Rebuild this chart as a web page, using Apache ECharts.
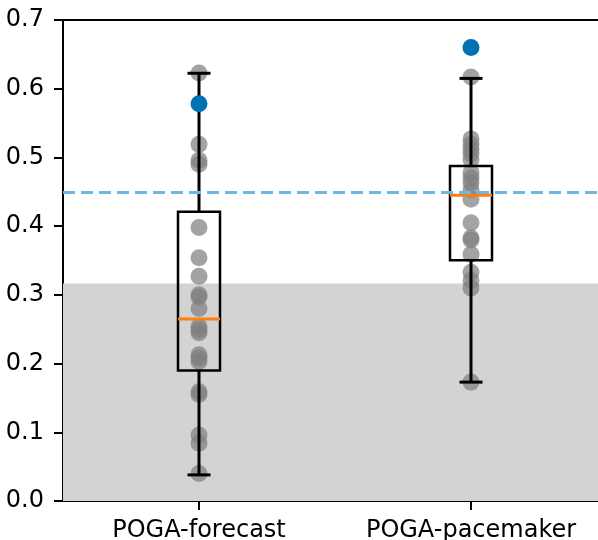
<!DOCTYPE html>
<html>
<head>
<meta charset="utf-8">
<script src="https://cdn.jsdelivr.net/npm/echarts@6/dist/echarts.min.js"></script>
<style>html,body{margin:0;padding:0;background:#fff}#c{width:598px;height:540px}</style>
</head>
<body>
<div id="c"></div>
<script>
const categories = ['POGA-forecast', 'POGA-pacemaker'];
const forecastPoints = [0.623, 0.519, 0.496, 0.490, 0.398, 0.354, 0.327, 0.300, 0.297, 0.280, 0.254, 0.249, 0.245, 0.213, 0.208, 0.203, 0.159, 0.155, 0.096, 0.084, 0.040];
const pacemakerPoints = [0.617, 0.527, 0.519, 0.512, 0.505, 0.497, 0.478, 0.470, 0.463, 0.453, 0.439, 0.405, 0.383, 0.380, 0.359, 0.333, 0.321, 0.310, 0.173];
const highlightPoints = [0.578, 0.660];
// [whisker low, Q1, median, Q3, whisker high]
const boxStats = [
  [0.038, 0.190, 0.265, 0.421, 0.6225],
  [0.173, 0.3505, 0.445, 0.4875, 0.615]
];
const thresholdValue = 0.452;
const shadeTop = 0.3165;
const yTickValues = [0, 0.1, 0.2, 0.3, 0.4, 0.5, 0.6, 0.7];

const grayData = [];
forecastPoints.forEach(v => grayData.push([0, v]));
pacemakerPoints.forEach(v => grayData.push([1, v]));
const blueData = highlightPoints.map((v, i) => [i, v]);
const boxData = boxStats.map((s, i) => [i].concat(s));

const chart = echarts.init(document.getElementById('c'), null, {renderer: 'canvas'});
const font = 'DejaVu Sans';

function renderBox(params, api) {
  const i = api.value(0);
  const lo = api.coord([i, api.value(1)]);
  const q1 = api.coord([i, api.value(2)]);
  const med = api.coord([i, api.value(3)]);
  const q3 = api.coord([i, api.value(4)]);
  const hi = api.coord([i, api.value(5)]);
  const x = lo[0];
  const bw = 42, cw = 23;
  const blk = {stroke: '#000', lineWidth: 3, fill: null};
  return {
    type: 'group',
    children: [
      {type: 'line', shape: {x1: x, y1: lo[1], x2: x, y2: q1[1]}, style: blk},
      {type: 'line', shape: {x1: x, y1: q3[1], x2: x, y2: hi[1]}, style: blk},
      {type: 'line', shape: {x1: x - cw / 2, y1: lo[1], x2: x + cw / 2, y2: lo[1]}, style: blk},
      {type: 'line', shape: {x1: x - cw / 2, y1: hi[1], x2: x + cw / 2, y2: hi[1]}, style: blk},
      {type: 'rect', shape: {x: x - bw / 2, y: q3[1], width: bw, height: q1[1] - q3[1]}, style: {stroke: '#000', lineWidth: 2.5, fill: null}},
      {type: 'line', shape: {x1: x - bw / 2, y1: med[1], x2: x + bw / 2, y2: med[1]}, style: {stroke: '#ff7f0e', lineWidth: 3}}
    ]
  };
}

chart.setOption({
  animation: false,
  grid: {left: 63, right: -9, top: 20, bottom: 39, containLabel: false, outerBoundsMode: 'none',
    show: true, borderColor: '#000', borderWidth: 2, backgroundColor: 'transparent'},
  xAxis: {
    type: 'category',
    data: categories,
    boundaryGap: true,
    axisLine: {show: true, lineStyle: {color: '#000', width: 2}},
    axisTick: {show: true, alignWithLabel: true, length: 9, lineStyle: {color: '#000', width: 2}},
    axisLabel: {color: '#000', fontSize: 24, fontFamily: font, margin: 18, hideOverlap: false, interval: 0},
    splitLine: {show: false}
  },
  yAxis: {
    type: 'value',
    min: 0, max: 0.7, interval: 0.1,
    axisLine: {show: true, lineStyle: {color: '#000', width: 2}},
    axisTick: {show: true, length: 9, lineStyle: {color: '#000', width: 2}},
    axisLabel: {color: '#000', fontSize: 24, fontFamily: font, margin: 19,
      formatter: v => yTickValues.some(t => Math.abs(t - v) < 1e-9) ? v.toFixed(1) : ''},
    splitLine: {show: false}
  },
  series: [
    {
      type: 'scatter',
      z: 2,
      data: grayData,
      symbolSize: 17,
      itemStyle: {color: '#808080', opacity: 0.72},
      markArea: {
        silent: true,
        itemStyle: {color: '#d3d3d3'},
        data: [[{yAxis: 0}, {yAxis: shadeTop}]]
      }
    },
    {
      type: 'custom',
      z: 3,
      data: boxData,
      renderItem: renderBox,
      encode: {x: 0, y: [1, 2, 3, 4, 5]}
    },
    {
      type: 'line',
      z: 4,
      data: [],
      markLine: {
        silent: true,
        symbol: 'none',
        label: {show: false},
        lineStyle: {color: '#6db8e0', type: [12, 6], width: 3},
        data: [{yAxis: thresholdValue}]
      }
    },
    {
      type: 'scatter',
      z: 5,
      data: blueData,
      symbolSize: 17,
      itemStyle: {color: '#0072b2', opacity: 1}
    }
  ]
});
</script>
</body>
</html>
